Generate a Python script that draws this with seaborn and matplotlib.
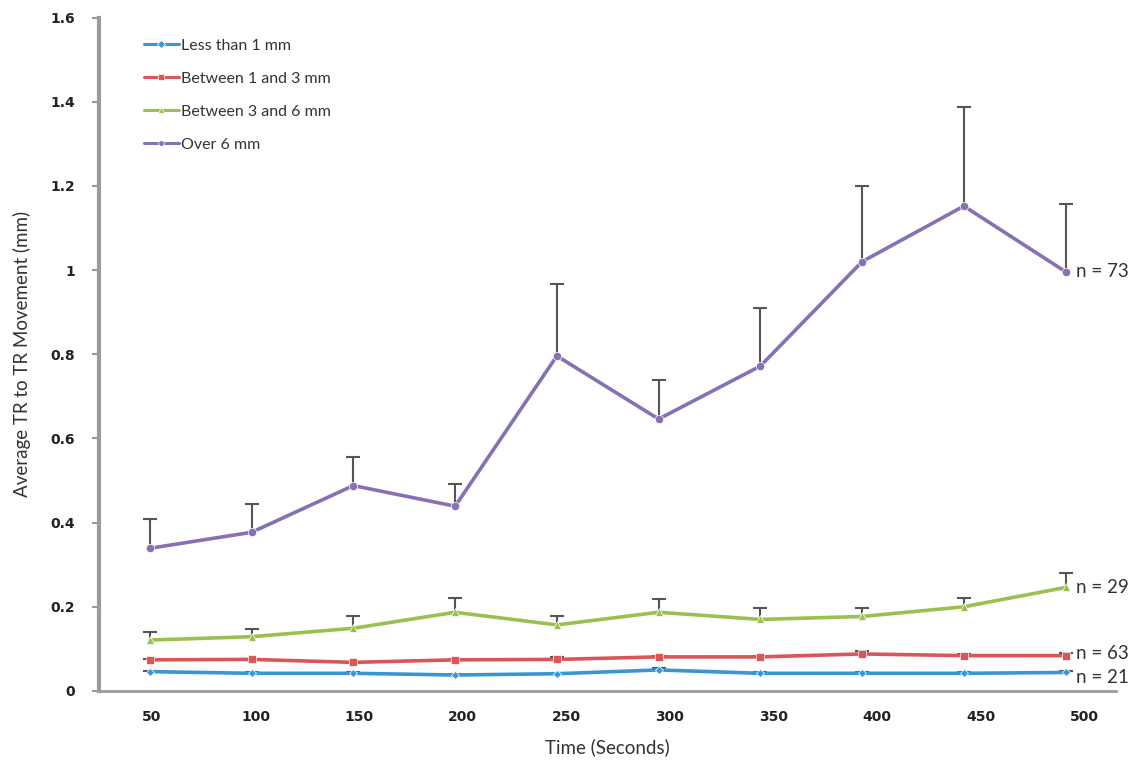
import numpy as np
import pandas as pd
import matplotlib
matplotlib.use("Agg")
import matplotlib.pyplot as plt
import seaborn as sns

# ---- data ----
times = [50, 100, 150, 200, 250, 300, 350, 400, 450, 500]
groups = ["Less than 1 mm", "Between 1 and 3 mm", "Between 3 and 6 mm", "Over 6 mm"]

less1 = [0.046, 0.042, 0.042, 0.038, 0.041, 0.050, 0.042, 0.042, 0.042, 0.044]
less1_err = [0.002, 0.002, 0.002, 0.002, 0.002, 0.004, 0.002, 0.002, 0.002, 0.003]

b1_3 = [0.074, 0.075, 0.068, 0.074, 0.075, 0.081, 0.081, 0.088, 0.084, 0.084]
b1_3_err = [0.002, 0.002, 0.002, 0.002, 0.006, 0.003, 0.003, 0.006, 0.003, 0.007]

b3_6 = [0.121, 0.129, 0.149, 0.187, 0.157, 0.187, 0.170, 0.177, 0.200, 0.246]
b3_6_err = [0.020, 0.018, 0.030, 0.035, 0.021, 0.032, 0.026, 0.019, 0.022, 0.034]

over6 = [0.339, 0.377, 0.488, 0.439, 0.796, 0.646, 0.772, 1.020, 1.152, 0.996]
over6_err = [0.069, 0.067, 0.067, 0.052, 0.172, 0.094, 0.138, 0.180, 0.236, 0.162]

n_labels = ["n = 21", "n = 63", "n = 29", "n = 73"]

colors = ["#3A95D5", "#DC5558", "#9CC04F", "#8870B5"]
markers = ["D", "s", "^", "o"]

values = [less1, b1_3, b3_6, over6]
errors = [less1_err, b1_3_err, b3_6_err, over6_err]

rows = []
for g, vals in zip(groups, values):
    for i, (t, v) in enumerate(zip(times, vals)):
        rows.append({"idx": i, "time": t, "group": g, "value": v})
df = pd.DataFrame(rows)

# ---- figure ----
sns.set_style("white")
plt.rcParams["font.family"] = ["Lato", "DejaVu Sans"]

fig = plt.figure(figsize=(11.35, 7.61), dpi=100)
ax = fig.add_axes([0.0872, 0.092, 0.8965, 0.885])

# error bars (plus only)
for vals, errs in zip(values, errors):
    _, caps, _ = ax.errorbar(range(len(times)), vals,
                             yerr=[np.zeros(len(errs)), errs],
                             fmt="none", ecolor="#555555", elinewidth=1.5,
                             capsize=5, capthick=1.5, zorder=1)
    caps[0].set_visible(False)

sns.lineplot(data=df, x="idx", y="value", hue="group", style="group",
             hue_order=groups, style_order=groups,
             palette=dict(zip(groups, colors)),
             markers=dict(zip(groups, markers)), dashes=False,
             linewidth=2.6, markersize=6, markeredgewidth=0.5,
             ax=ax, zorder=3)
for ln in ax.lines:
    if ln.get_marker() == "D":
        ln.set_markersize(4.5)

# axes styling
ax.set_xlim(-0.5, 9.5)
ax.set_ylim(0, 1.6)
yt = np.round(np.arange(0, 1.61, 0.2), 1)
ax.set_yticks(yt)
ax.set_yticklabels([f"{v:g}" for v in yt], fontsize=10, fontweight="bold",
                   color="#222222", family="DejaVu Sans")
tick_pos = np.arange(len(times)) * 1.018 + 0.02
ax.set_xticks(tick_pos)
ax.set_xticklabels([str(t) for t in times], fontsize=10, fontweight="bold",
                   color="#222222", family="DejaVu Sans")
ax.tick_params(axis="x", length=0, pad=14)
ax.tick_params(axis="y", length=5, width=1.5, color="#999999",
               direction="out", pad=12, left=True)

for s in ["top", "right"]:
    ax.spines[s].set_visible(False)
ax.spines["left"].set_color("#9a9a9a")
ax.spines["left"].set_linewidth(3)
ax.spines["bottom"].set_color("#9a9a9a")
ax.spines["bottom"].set_linewidth(2)

ax.set_xlabel("Time (Seconds)", fontsize=13.5, color="#333333", labelpad=10)
ax.set_ylabel("Average TR to TR Movement (mm)", fontsize=13.5,
              color="#333333", labelpad=14)

# n labels at line ends
for vals, lab in zip(values, n_labels):
    off = 0
    if lab == "n = 21":
        off = -0.012
    elif lab == "n = 63":
        off = 0.004
    ax.text(len(times) - 1 + 0.1, vals[-1] + off, lab, fontsize=13.5,
            color="#333333", va="center", ha="left", clip_on=False)

leg = ax.legend(loc="upper left", bbox_to_anchor=(0.03, 0.99), frameon=False,
                fontsize=11.5, handlelength=2.2, handletextpad=0.15,
                labelspacing=1.18)
for line in leg.get_lines():
    line.set_linewidth(2.2)
    line.set_markersize(4)
for t in leg.get_texts():
    t.set_color("#333333")

fig.savefig("out.png", dpi=100)
